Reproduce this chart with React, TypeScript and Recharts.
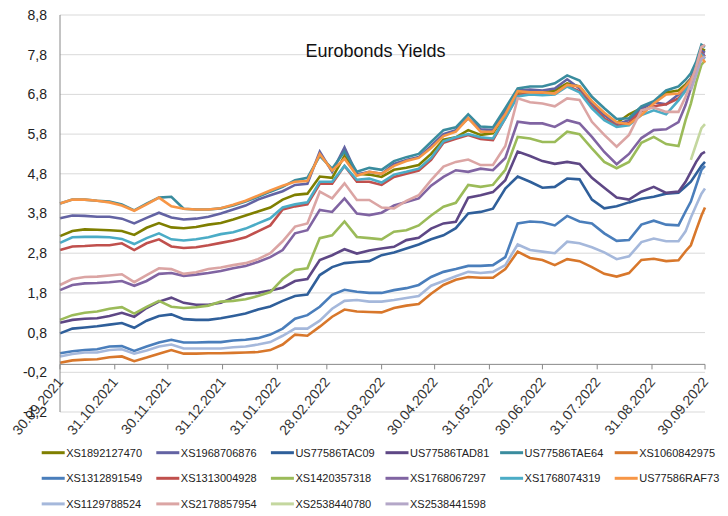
import { CartesianGrid, Line, LineChart, ReferenceLine, XAxis, YAxis } from "recharts"

// days counted from 30.09.2021 (weekly, denser at the end)
const days = [
  0, 7, 14, 21, 28, 35, 42, 49, 56, 63, 70, 77, 84, 91, 98, 105, 112, 119, 126, 133,
  140, 147, 154, 161, 168, 175, 182, 189, 196, 203, 210, 217, 224, 231, 238, 245, 252, 259, 266, 273,
  280, 287, 294, 301, 308, 315, 322, 329, 336, 343, 350, 354, 357, 360, 363, 365,
]

const tickDays = [0, 31, 61, 92, 123, 151, 182, 212, 243, 273, 304, 335, 365]
const tickLabels = [
  "30.09.2021", "31.10.2021", "30.11.2021", "31.12.2021", "31.01.2022", "28.02.2022", "31.03.2022",
  "30.04.2022", "31.05.2022", "30.06.2022", "31.07.2022", "31.08.2022", "30.09.2022",
]
const yTicks = [-1.2, -0.2, 0.8, 1.8, 2.8, 3.8, 4.8, 5.8, 6.8, 7.8, 8.8]

// yields, %
const XS1892127470 = [3.23, 3.36, 3.40, 3.39, 3.38, 3.36, 3.26, 3.44, 3.56, 3.45, 3.43, 3.46, 3.52, 3.56, 3.65, 3.75, 3.85, 3.95, 4.15, 4.27, 4.30, 4.73, 4.70, 5.25, 4.80, 4.78, 4.72, 4.90, 4.95, 5.02, 5.30, 5.66, 5.72, 5.90, 5.78, 5.82, 6.30, 6.85, 6.85, 6.85, 6.90, 7.08, 7.00, 6.60, 6.30, 6.08, 6.30, 6.45, 6.60, 6.85, 6.90, 7.05, 7.20, 7.50, 7.95, 7.90]
const XS1968706876 = [3.68, 3.75, 3.74, 3.72, 3.72, 3.67, 3.55, 3.69, 3.82, 3.70, 3.65, 3.67, 3.72, 3.80, 3.90, 4.00, 4.15, 4.26, 4.36, 4.52, 4.55, 5.36, 4.85, 5.46, 4.78, 4.85, 4.80, 5.05, 5.15, 5.22, 5.50, 5.80, 5.90, 6.20, 5.92, 5.90, 6.38, 6.90, 6.92, 6.90, 6.95, 7.18, 6.95, 6.60, 6.28, 6.05, 6.15, 6.45, 6.60, 6.55, 6.80, 7.00, 7.20, 7.50, 7.90, 7.85]
const US77586TAC09 = [0.78, 0.90, 0.93, 0.96, 1.00, 1.04, 0.92, 1.10, 1.22, 1.26, 1.14, 1.12, 1.12, 1.16, 1.22, 1.28, 1.38, 1.46, 1.60, 1.72, 1.76, 2.25, 2.45, 2.55, 2.58, 2.60, 2.75, 2.82, 2.92, 3.02, 3.15, 3.25, 3.43, 3.80, 3.84, 3.92, 4.43, 4.73, 4.60, 4.45, 4.47, 4.68, 4.66, 4.15, 3.93, 3.98, 4.08, 4.17, 4.22, 4.30, 4.32, 4.48, 4.60, 4.80, 5.00, 5.10]
const US77586TAD81 = [1.05, 1.12, 1.15, 1.16, 1.22, 1.30, 1.20, 1.42, 1.58, 1.68, 1.55, 1.50, 1.50, 1.55, 1.68, 1.78, 1.80, 1.86, 1.93, 2.10, 2.15, 2.63, 2.75, 2.90, 2.79, 2.87, 2.92, 2.96, 3.13, 3.19, 3.42, 3.55, 3.59, 4.20, 4.26, 4.34, 4.64, 5.36, 5.25, 5.12, 5.05, 5.10, 5.05, 4.70, 4.45, 4.20, 4.15, 4.35, 4.47, 4.32, 4.35, 4.60, 4.85, 5.10, 5.30, 5.35]
const US77586TAE64 = [4.05, 4.15, 4.15, 4.12, 4.10, 4.03, 3.88, 4.05, 4.20, 4.22, 3.92, 3.90, 3.90, 3.93, 4.00, 4.10, 4.22, 4.35, 4.47, 4.64, 4.70, 5.25, 4.93, 5.36, 4.85, 4.95, 4.90, 5.12, 5.22, 5.30, 5.60, 5.90, 5.97, 6.30, 5.99, 5.97, 6.45, 6.95, 7.00, 7.00, 7.08, 7.28, 7.15, 6.74, 6.45, 6.18, 6.20, 6.50, 6.63, 6.90, 7.00, 7.17, 7.33, 7.62, 8.05, 8.00]
const XS1060842975 = [0.04, 0.10, 0.12, 0.13, 0.18, 0.20, 0.08, 0.17, 0.27, 0.36, 0.27, 0.27, 0.28, 0.28, 0.29, 0.30, 0.31, 0.36, 0.50, 0.75, 0.72, 0.95, 1.20, 1.38, 1.33, 1.32, 1.31, 1.42, 1.48, 1.52, 1.78, 2.00, 2.13, 2.20, 2.18, 2.18, 2.40, 2.84, 2.68, 2.63, 2.50, 2.65, 2.60, 2.45, 2.28, 2.21, 2.30, 2.63, 2.66, 2.60, 2.62, 2.85, 3.00, 3.38, 3.75, 3.95]
const XS1312891549 = [0.28, 0.33, 0.36, 0.38, 0.45, 0.46, 0.34, 0.45, 0.55, 0.62, 0.55, 0.55, 0.56, 0.56, 0.60, 0.62, 0.66, 0.75, 0.90, 1.15, 1.24, 1.45, 1.75, 1.88, 1.83, 1.80, 1.80, 1.87, 1.92, 2.00, 2.20, 2.33, 2.40, 2.48, 2.48, 2.50, 2.70, 3.55, 3.60, 3.58, 3.50, 3.74, 3.60, 3.55, 3.30, 3.11, 3.13, 3.52, 3.62, 3.52, 3.50, 3.85, 4.10, 4.50, 4.90, 5.00]
const XS1313004928 = [2.88, 2.97, 2.98, 3.00, 3.00, 3.05, 2.88, 3.05, 3.15, 2.97, 2.93, 2.95, 3.00, 3.06, 3.12, 3.20, 3.35, 3.50, 3.90, 3.98, 4.03, 4.55, 4.55, 5.00, 4.60, 4.60, 4.52, 4.72, 4.80, 4.88, 5.15, 5.58, 5.68, 5.78, 5.68, 5.65, 6.20, 6.78, 6.82, 6.80, 6.82, 7.02, 6.88, 6.50, 6.20, 6.00, 6.08, 6.38, 6.50, 6.55, 6.70, 6.90, 7.10, 7.45, 7.85, 7.75]
const XS1420357318 = [1.12, 1.24, 1.30, 1.33, 1.40, 1.44, 1.28, 1.45, 1.60, 1.45, 1.42, 1.44, 1.48, 1.58, 1.60, 1.64, 1.72, 1.82, 2.15, 2.38, 2.42, 3.18, 3.25, 3.60, 3.21, 3.18, 3.15, 3.34, 3.38, 3.50, 3.75, 3.97, 4.07, 4.52, 4.47, 4.52, 4.90, 5.73, 5.69, 5.60, 5.60, 5.86, 5.80, 5.44, 5.10, 4.94, 5.10, 5.58, 5.73, 5.55, 5.50, 6.15, 6.57, 7.10, 7.55, 7.65]
const XS1768067297 = [1.87, 2.00, 2.04, 2.05, 2.07, 2.10, 1.98, 2.10, 2.28, 2.30, 2.23, 2.26, 2.30, 2.35, 2.42, 2.48, 2.58, 2.70, 2.88, 3.30, 3.38, 3.89, 3.84, 4.18, 3.80, 3.76, 3.82, 4.00, 4.09, 4.18, 4.50, 4.72, 4.89, 4.85, 4.93, 4.89, 5.20, 6.11, 6.07, 6.07, 5.98, 6.15, 6.07, 5.73, 5.35, 5.04, 5.30, 5.70, 5.90, 5.92, 6.10, 6.53, 6.95, 7.41, 7.80, 7.80]
const XS1768074319 = [3.06, 3.20, 3.21, 3.21, 3.20, 3.16, 3.03, 3.18, 3.30, 3.15, 3.12, 3.15, 3.20, 3.28, 3.33, 3.42, 3.55, 3.68, 3.95, 4.03, 4.08, 4.60, 4.60, 5.00, 4.65, 4.68, 4.58, 4.78, 4.85, 4.93, 5.20, 5.62, 5.72, 5.80, 5.72, 5.69, 6.20, 6.75, 6.80, 6.78, 6.80, 7.00, 6.85, 6.45, 6.15, 5.98, 6.02, 6.28, 6.40, 6.30, 6.65, 6.90, 7.10, 7.45, 7.80, 7.70]
const US77586RAF73 = [4.05, 4.15, 4.15, 4.12, 4.08, 4.00, 3.87, 4.03, 4.20, 3.98, 3.92, 3.90, 3.90, 3.93, 4.02, 4.12, 4.25, 4.38, 4.50, 4.60, 4.62, 5.30, 4.88, 5.18, 4.75, 4.85, 4.80, 5.00, 5.12, 5.20, 5.45, 5.75, 5.86, 6.20, 5.86, 5.86, 6.30, 6.88, 6.85, 6.85, 6.82, 7.04, 7.00, 6.63, 6.34, 6.10, 6.05, 6.28, 6.57, 6.80, 6.82, 7.00, 7.17, 7.42, 7.75, 7.60]
const XS1129788524 = [0.20, 0.26, 0.30, 0.30, 0.36, 0.38, 0.27, 0.35, 0.45, 0.50, 0.40, 0.40, 0.40, 0.40, 0.43, 0.45, 0.50, 0.56, 0.72, 0.90, 0.90, 1.10, 1.40, 1.60, 1.62, 1.58, 1.58, 1.62, 1.67, 1.72, 1.98, 2.10, 2.22, 2.33, 2.30, 2.33, 2.50, 3.02, 2.88, 2.84, 2.80, 3.09, 3.05, 2.95, 2.82, 2.65, 2.72, 3.08, 3.17, 3.10, 3.10, 3.35, 3.70, 4.00, 4.30, 4.43]
const XS2178857954 = [2.00, 2.15, 2.20, 2.21, 2.24, 2.27, 2.07, 2.25, 2.42, 2.40, 2.28, 2.32, 2.40, 2.44, 2.50, 2.55, 2.65, 2.80, 3.10, 3.47, 3.55, 4.35, 4.18, 4.56, 4.14, 4.14, 3.95, 3.93, 4.12, 4.26, 4.64, 4.98, 5.10, 5.16, 5.02, 5.02, 5.50, 6.70, 6.60, 6.57, 6.50, 6.70, 6.66, 6.11, 5.78, 5.48, 5.78, 6.40, 6.47, 6.36, 6.36, 6.74, 7.08, 7.50, 8.00, 8.05]
const XS2538440780 = [null, null, null, null, null, null, null, null, null, null, null, null, null, null, null, null, null, null, null, null, null, null, null, null, null, null, null, null, null, null, null, null, null, null, null, null, null, null, null, null, null, null, null, null, null, null, null, null, null, null, null, null, 5.15, 5.55, 5.95, 6.05]
const XS2538441598 = [null, null, null, null, null, null, null, null, null, null, null, null, null, null, null, null, null, null, null, null, null, null, null, null, null, null, null, null, null, null, null, null, null, null, null, null, null, null, null, null, null, null, null, null, null, null, null, null, null, null, null, null, 6.90, 7.30, 7.70, 7.75]

const seriesNames = [
  "XS1892127470", "XS1968706876", "US77586TAC09", "US77586TAD81", "US77586TAE64", "XS1060842975",
  "XS1312891549", "XS1313004928", "XS1420357318", "XS1768067297", "XS1768074319", "US77586RAF73",
  "XS1129788524", "XS2178857954", "XS2538440780", "XS2538441598",
]
const seriesValues = [
  XS1892127470, XS1968706876, US77586TAC09, US77586TAD81, US77586TAE64, XS1060842975,
  XS1312891549, XS1313004928, XS1420357318, XS1768067297, XS1768074319, US77586RAF73,
  XS1129788524, XS2178857954, XS2538440780, XS2538441598,
]
const seriesColors = [
  "#7f7f00", "#6363a3", "#2f5f9a", "#5e4785", "#3a8c9e", "#d8772b",
  "#4a7ebb", "#c0504d", "#9bbb59", "#8064a2", "#4bacc6", "#f79646",
  "#a5b8db", "#dba5a4", "#c4d79f", "#b4a7c8",
]

const rows = days.map((day, i) => {
  const row: Record<string, number | null> = { day }
  seriesNames.forEach((name, k) => {
    row[name] = seriesValues[k][i]
  })
  return row
})

const FONT = "'Liberation Sans', Arial, sans-serif"
const TOP = 15
const PLOT_H = 397
const Y_MIN = -1.2
const Y_MAX = 8.8
// y pixel of the value 0, where the date axis crosses
const ZERO_Y = TOP + (PLOT_H * Y_MAX) / (Y_MAX - Y_MIN)

const DateTick = (props: any) => {
  const { x, payload } = props
  const label = tickLabels[tickDays.indexOf(payload.value)]
  return (
    <g transform={`translate(${x},${ZERO_Y})`}>
      <line x1={0} y1={0} x2={0} y2={5} stroke="#888" />
      <text
        transform="translate(4,18) rotate(-50)"
        textAnchor="end"
        fontSize={14}
        fontFamily={FONT}
        fill="#333"
      >
        {label}
      </text>
    </g>
  )
}

export default function App() {
  return (
    <div style={{ position: "absolute", left: 0, top: 0, width: 728, height: 516, background: "#fff" }}>
      <LineChart width={728} height={516} data={rows} margin={{ top: TOP, right: 23, bottom: 96, left: 0 }}>
        <CartesianGrid vertical={false} stroke="#d9d9d9" />
        <XAxis
          dataKey="day"
          type="number"
          domain={[0, 365]}
          ticks={tickDays}
          interval={0}
          height={8}
          axisLine={false}
          tickLine={false}
          tick={DateTick}
        />
        <YAxis
          type="number"
          domain={[Y_MIN, Y_MAX]}
          ticks={yTicks}
          interval={0}
          width={60}
          axisLine={{ stroke: "#888" }}
          tickLine={false}
          tickSize={6}
          tickMargin={7}
          tick={{ fontSize: 14, fill: "#222", fontFamily: FONT }}
          tickFormatter={(v: number) => v.toFixed(1).replace(".", ",")}
        />
        <ReferenceLine y={0} stroke="#888" strokeWidth={1} />
        {seriesNames.map((name, k) => (
          <Line
            key={name}
            dataKey={name}
            name={name}
            type="linear"
            stroke={seriesColors[k]}
            strokeWidth={2.6}
            dot={false}
            isAnimationActive={false}
          />
        ))}
      </LineChart>
      <svg width={728} height={516} style={{ position: "absolute", left: 0, top: 0, pointerEvents: "none" }}>
        <text x={375.5} y={57} textAnchor="middle" fontSize={18} fontFamily={FONT} fill="#111">
          Eurobonds Yields
        </text>
        {seriesNames.map((name, k) => {
          const col = k % 6
          const rowIdx = Math.floor(k / 6)
          const lx = 41.7 + col * 114.6
          const ly = 452.7 + rowIdx * 25.6
          return (
            <g key={name}>
              <line x1={lx} y1={ly} x2={lx + 23} y2={ly} stroke={seriesColors[k]} strokeWidth={3} />
              <text x={lx + 24.5} y={ly + 4} fontSize={11} fontFamily={FONT} fill="#222">
                {name}
              </text>
            </g>
          )
        })}
      </svg>
    </div>
  )
}
